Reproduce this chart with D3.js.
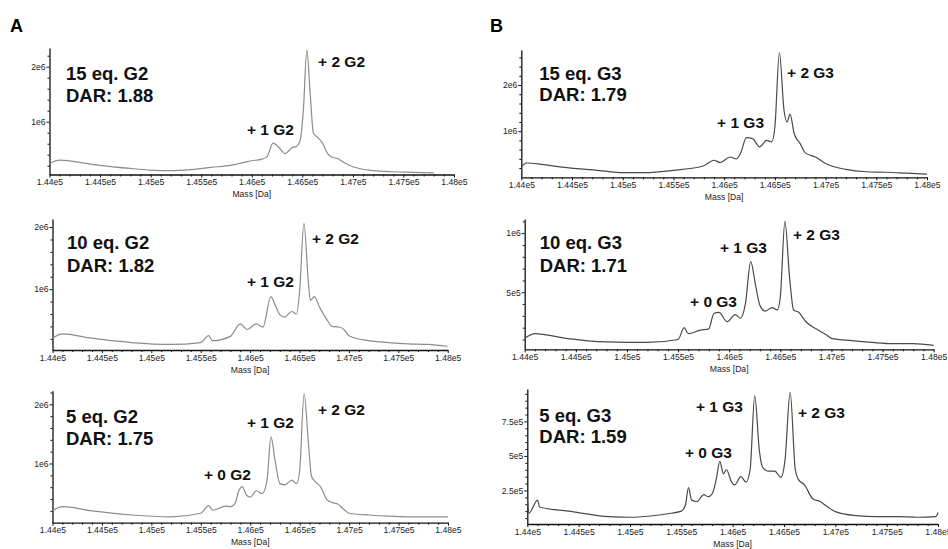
<!DOCTYPE html>
<html>
<head>
<meta charset="utf-8">
<script src="https://cdn.jsdelivr.net/npm/d3@7"></script>
<style>
body { margin: 0; background: #fff; font-family: "Liberation Sans", Arial, sans-serif; }
svg { display: block; }
.tick text { font-family: "Liberation Sans Narrow", "Liberation Sans", Arial, sans-serif; font-size: 8.6px; fill: #222; }
.axis path, .axis line { stroke: #111; }
.xlab { font-family: "Liberation Sans Narrow", "Liberation Sans", Arial, sans-serif; font-size: 8.6px; fill: #222; }
</style>
</head>
<body>
<div id="chart"></div>
<script>
// x axis ticks (mass, Da)
const massTicks = [144000, 144500, 145000, 145500, 146000, 146500, 147000, 147500, 148000];
const massTickLabels = ['1.44e5', '1.445e5', '1.45e5', '1.455e5', '1.46e5', '1.465e5', '1.47e5', '1.475e5', '1.48e5'];

// y ticks (intensity in units of 1e6)
const yTicksBig = [1, 2];
const yTicksBigLabels = ['1e6', '2e6'];
const yTicksMid = [0.5, 1];
const yTicksMidLabels = ['5e5', '1e6'];
const yTicksSmall = [0.25, 0.5, 0.75];
const yTicksSmallLabels = ['2.5e5', '5e5', '7.5e5'];

// spectra (intensity x1e6)
const massA15 = [144000,144100,144400,144800,145000,145200,145400,145600,145800,145900,146000,146100,146150,146210,146260,146330,146400,146440,146480,146510,146545,146580,146610,146650,146700,146750,146800,146850,146900,147000,147200,147400,147600,147800];
const intA15  = [0.24,0.30,0.23,0.15,0.12,0.11,0.13,0.17,0.21,0.25,0.29,0.32,0.36,0.61,0.55,0.42,0.53,0.55,0.67,1.20,2.30,1.45,0.79,0.72,0.61,0.42,0.35,0.33,0.27,0.18,0.11,0.09,0.08,0.07];

const massA10 = [144000,144100,144400,144800,145200,145500,145580,145620,145800,145900,145970,146060,146130,146210,146260,146300,146350,146420,146470,146500,146545,146590,146610,146650,146700,146780,146830,146900,146950,147000,147200,147400,147600,147800,148000];
const intA10  = [0.21,0.28,0.21,0.14,0.11,0.14,0.25,0.17,0.24,0.44,0.35,0.44,0.39,0.88,0.72,0.59,0.55,0.64,0.60,0.94,2.06,1.10,0.82,0.88,0.72,0.50,0.40,0.39,0.35,0.25,0.17,0.14,0.12,0.11,0.08];

const massA5 = [144000,144100,144400,144800,145200,145500,145580,145620,145750,145800,145850,145880,145920,145960,146000,146060,146120,146170,146210,146250,146300,146350,146420,146470,146500,146545,146590,146620,146660,146710,146780,146850,146880,146950,147000,147200,147400,147600,147800,148000];
const intA5  = [0.20,0.27,0.20,0.13,0.10,0.16,0.29,0.21,0.28,0.27,0.34,0.52,0.61,0.47,0.43,0.54,0.49,0.72,1.45,1.06,0.66,0.64,0.72,0.66,0.89,2.18,1.30,0.78,0.69,0.61,0.38,0.33,0.32,0.22,0.16,0.13,0.11,0.10,0.10,0.10];

const massB15 = [144000,144050,144200,144400,144800,145000,145200,145500,145800,145900,145960,146060,146120,146160,146220,146280,146350,146420,146470,146500,146545,146590,146620,146650,146690,146750,146800,146900,147000,147200,147400,147600,147800,148000];
const intB15  = [0.22,0.31,0.28,0.22,0.14,0.10,0.10,0.15,0.25,0.37,0.32,0.44,0.40,0.51,0.86,0.84,0.66,0.80,0.77,1.09,2.70,1.46,1.20,1.37,0.95,0.73,0.53,0.44,0.30,0.17,0.12,0.11,0.09,0.07];

const massB10 = [144000,144100,144400,144800,145200,145500,145560,145600,145720,145800,145850,145900,145980,146060,146110,146160,146210,146260,146300,146350,146420,146470,146500,146545,146590,146630,146680,146750,146850,146950,147000,147200,147400,147600,147800,148000];
const intB10  = [0.11,0.15,0.11,0.08,0.075,0.10,0.20,0.15,0.18,0.19,0.32,0.33,0.25,0.31,0.28,0.41,0.76,0.55,0.39,0.34,0.37,0.35,0.46,1.10,0.63,0.35,0.33,0.25,0.19,0.14,0.11,0.09,0.075,0.065,0.065,0.05];

const massB5 = [144000,144015,144100,144120,144400,144800,145000,145200,145400,145500,145540,145570,145600,145650,145720,145760,145800,145840,145875,145910,145940,145990,146020,146080,146130,146170,146215,146260,146290,146350,146410,146470,146510,146560,146610,146640,146700,146780,146850,146900,147000,147200,147400,147600,147800,147980,148000];
const intB5  = [0.20,0.085,0.18,0.13,0.10,0.06,0.056,0.065,0.085,0.10,0.145,0.27,0.18,0.17,0.22,0.205,0.225,0.33,0.46,0.37,0.40,0.31,0.29,0.35,0.31,0.40,0.935,0.54,0.42,0.39,0.39,0.345,0.47,0.96,0.40,0.33,0.29,0.19,0.17,0.145,0.097,0.068,0.06,0.06,0.056,0.06,0.09];

// sample labels
const titles = ['15 eq. G2', '10 eq. G2', '5 eq. G2', '15 eq. G3', '10 eq. G3', '5 eq. G3'];
const dars = ['DAR: 1.88', 'DAR: 1.82', 'DAR: 1.75', 'DAR: 1.79', 'DAR: 1.71', 'DAR: 1.59'];

// peak labels: [text, mass, intensity] anchor of the text
const peaksA15 = [['+ 2 G2', 146656, 1.995], ['+ 1 G2', 145953, 0.758]];
const peaksA10 = [['+ 2 G2', 146626, 1.73], ['+ 1 G2', 145968, 1.04]];
const peaksA5  = [['+ 2 G2', 146685, 1.82], ['+ 1 G2', 145967, 1.60], ['+ 0 G2', 145531, 0.72]];
const peaksB15 = [['+ 2 G3', 146620, 2.15], ['+ 1 G3', 145930, 1.07]];
const peaksB10 = [['+ 2 G3', 146624, 0.943], ['+ 1 G3', 145910, 0.833], ['+ 0 G3', 145617, 0.378]];
const peaksB5  = [['+ 1 G3', 145643, 0.821], ['+ 2 G3', 146636, 0.775], ['+ 0 G3', 145535, 0.486]];

const W = 948, H = 549;
const svg = d3.select('#chart').append('svg').attr('width', W).attr('height', H);

const panels = [
  {mass: massA15, inten: intA15, peaks: peaksA15, color: '#8c8c8c', left: 49.5, right: 454, top: 48, bottom: 174.5, lo: 0.04, hi: 2.34, yt: yTicksBig, ytl: yTicksBigLabels, minor: 0.2, tx: 16.5, ty: 32, ty2: 54},
  {mass: massA10, inten: intA10, peaks: peaksA10, color: '#8c8c8c', left: 52.5, right: 447.7, top: 219, bottom: 350, lo: 0.02, hi: 2.13, yt: yTicksBig, ytl: yTicksBigLabels, minor: 0.2, tx: 14.5, ty: 30, ty2: 53},
  {mass: massA5, inten: intA5, peaks: peaksA5, color: '#8c8c8c', left: 52.5, right: 448, top: 390.7, bottom: 522.7, lo: 0, hi: 2.23, yt: yTicksBig, ytl: yTicksBigLabels, minor: 0.2, tx: 13.5, ty: 32, ty2: 54},
  {mass: massB15, inten: intB15, peaks: peaksB15, color: '#4a4a4a', left: 521.3, right: 927, top: 50, bottom: 177.3, lo: 0, hi: 2.76, yt: yTicksBig, ytl: yTicksBigLabels, minor: 0.2, tx: 18, ty: 30, ty2: 51},
  {mass: massB10, inten: intB10, peaks: peaksB10, color: '#4a4a4a', left: 524.7, right: 933.7, top: 219, bottom: 349.3, lo: 0.017, hi: 1.12, yt: yTicksMid, ytl: yTicksMidLabels, minor: 0.1, tx: 15, ty: 30, ty2: 53},
  {mass: massB5, inten: intB5, peaks: peaksB5, color: '#4a4a4a', left: 527.3, right: 938, top: 389, bottom: 524, lo: 0.007, hi: 0.985, yt: yTicksSmall, ytl: yTicksSmallLabels, minor: 0.05, tx: 12, ty: 33, ty2: 54}
];

// panel letters
svg.append('text').text('A').attr('x', 10).attr('y', 32).style('font-size', '18px').style('font-weight', 700);
svg.append('text').text('B').attr('x', 490).attr('y', 32).style('font-size', '18px').style('font-weight', 700);

const minorMass = d3.range(144000, 148001, 100).filter(m => m % 500 !== 0);

panels.forEach((p, i) => {
  const x = d3.scaleLinear().domain([144000, 148000]).range([p.left, p.right]);
  const y = d3.scaleLinear().domain([p.lo, p.hi]).range([p.bottom, p.top]);
  const g = svg.append('g');

  // minor ticks
  g.append('g').attr('class', 'axis').attr('transform', 'translate(0,' + p.bottom + ')')
    .call(d3.axisBottom(x).tickValues(minorMass).tickSize(2).tickSizeOuter(0).tickFormat(''))
    .select('.domain').remove();
  const yMinor = d3.range(p.minor, p.hi, p.minor).filter(v => !p.yt.some(t => Math.abs(t - v) < 1e-6));
  g.append('g').attr('class', 'axis').attr('transform', 'translate(' + p.left + ',0)')
    .call(d3.axisLeft(y).tickValues(yMinor).tickSize(2).tickSizeOuter(0).tickFormat(''))
    .select('.domain').remove();

  // main axes
  const xa = g.append('g').attr('class', 'axis').attr('transform', 'translate(0,' + p.bottom + ')')
    .call(d3.axisBottom(x).tickValues(massTicks).tickSize(3).tickSizeOuter(0).tickPadding(1.5)
      .tickFormat((d, k) => massTickLabels[k]));
  xa.select('.domain').attr('stroke-width', 1.3);
  const ya = g.append('g').attr('class', 'axis').attr('transform', 'translate(' + p.left + ',0)')
    .call(d3.axisLeft(y).tickValues(p.yt).tickSize(3).tickSizeOuter(0).tickPadding(1)
      .tickFormat((d, k) => p.ytl[k]));
  ya.select('.domain').attr('stroke-width', 1.3);

  g.append('text').attr('class', 'xlab').text('Mass [Da]')
    .attr('x', (p.left + p.right) / 2).attr('y', p.bottom + 22.5).attr('text-anchor', 'middle');

  // spectrum
  const pts = p.mass.map((m, k) => [m, p.inten[k]]);
  g.append('path').datum(pts)
    .attr('fill', 'none').attr('stroke', p.color).attr('stroke-width', 1.2)
    .attr('d', d3.line().x(d => x(d[0])).y(d => y(d[1])).curve(d3.curveMonotoneX));

  // sample text
  g.append('text').text(titles[i]).attr('x', p.left + p.tx).attr('y', p.top + p.ty)
    .style('font-size', '18.5px').style('font-weight', 700).style('fill', '#111');
  g.append('text').text(dars[i]).attr('x', p.left + p.tx).attr('y', p.top + p.ty2)
    .style('font-size', '18.5px').style('font-weight', 700).style('fill', '#111');

  g.selectAll('.peak').data(p.peaks).enter().append('text').attr('class', 'peak')
    .text(d => d[0]).attr('x', d => x(d[1])).attr('y', d => y(d[2]))
    .style('font-size', '15.5px').style('font-weight', 700).style('fill', '#111');
});
</script>
</body>
</html>
